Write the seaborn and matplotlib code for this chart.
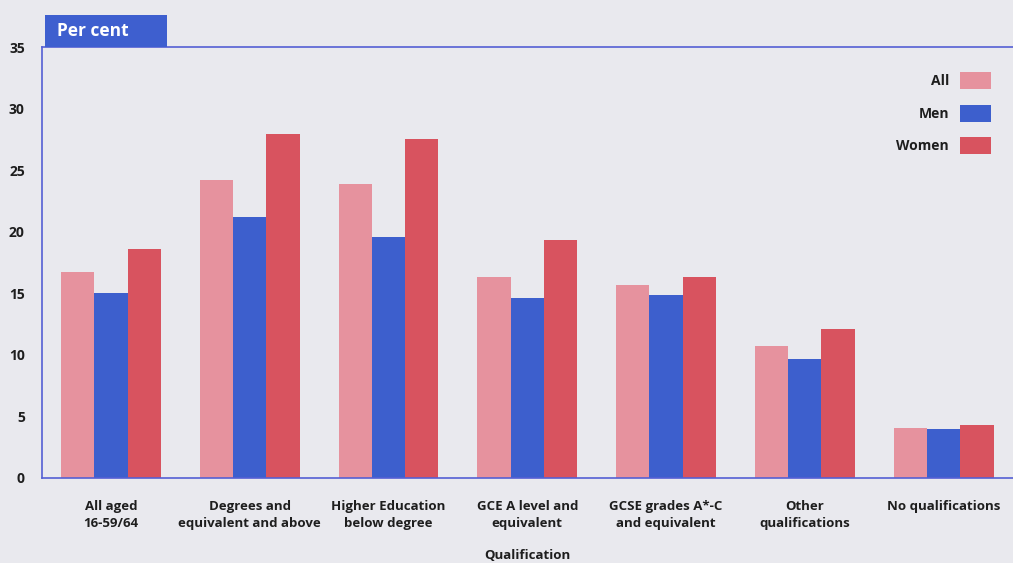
import pandas as pd
import matplotlib.pyplot as plt
from matplotlib.patches import Rectangle
import seaborn as sns

# Dados (por cento)
categorias = ['All aged\n16-59/64', 'Degrees and\nequivalent and above', 'Higher Education\nbelow degree',
              'GCE A level and\nequivalent', 'GCSE grades A*-C\nand equivalent', 'Other\nqualifications',
              'No qualifications']
grupos = ['All', 'Men', 'Women']
valores_all = [16.7, 24.2, 23.9, 16.3, 15.7, 10.7, 4.1]
valores_men = [15.0, 21.2, 19.6, 14.6, 14.9, 9.7, 4.0]
valores_women = [18.6, 27.9, 27.5, 19.3, 16.3, 12.1, 4.3]
yticks = [0, 5, 10, 15, 20, 25, 30, 35]

cores = {'All': '#e6929e', 'Men': '#3d5fcd', 'Women': '#d8535f'}
fundo = '#e9e9ee'
azul_linha = '#5560d4'
texto = '#1e1e1e'

df = pd.DataFrame({
    'Qualification': categorias * 3,
    'Grupo': ['All'] * 7 + ['Men'] * 7 + ['Women'] * 7,
    'Valor': valores_all + valores_men + valores_women,
})

sns.set_style('white')
plt.rcParams['font.family'] = ['Open Sans', 'DejaVu Sans']

fig = plt.figure(figsize=(10.13, 5.63), dpi=100, facecolor=fundo)
ax = fig.add_axes([0.041, 0.151, 0.959, 0.7655])
ax.set_facecolor(fundo)

sns.barplot(data=df, x='Qualification', y='Valor', hue='Grupo', hue_order=grupos,
            palette=cores, width=0.72, saturation=1, linewidth=0, ax=ax, legend=True)

ax.set_xlim(-0.5, 6.5)
ax.set_ylim(0, 35)
ax.set_yticks(yticks)
ax.set_yticklabels([str(v) for v in yticks], fontsize=10, fontweight='bold', color=texto)
ax.tick_params(axis='y', length=0, pad=12)
ax.tick_params(axis='x', which='major', length=0, pad=16, labelsize=9.5, labelcolor=texto)
for t in ax.get_xticklabels():
    t.set_fontweight('bold')
    t.set_linespacing(1.35)
ax.set_xticks([i + 0.5 for i in range(-1, 6)], minor=True)
ax.tick_params(axis='x', which='minor', length=5, color=azul_linha, direction='out')

ax.set_xlabel('Qualification', fontsize=9.5, fontweight='bold', color=texto, labelpad=14)
ax.set_ylabel('')

for lado in ['left', 'bottom', 'top']:
    ax.spines[lado].set_color(azul_linha)
    ax.spines[lado].set_linewidth(1.2)
ax.spines['right'].set_visible(False)

# Caixa "Per cent"
ax.add_patch(Rectangle((0.004, 1.0), 0.125, 0.075, transform=ax.transAxes,
                       facecolor='#3e5fcf', edgecolor='none', clip_on=False, zorder=5))
ax.text(0.016, 1.038, 'Per cent', transform=ax.transAxes, color='white', fontsize=12.5,
        fontweight='bold', va='center', ha='left', zorder=6)

leg = ax.legend(loc='upper right', bbox_to_anchor=(0.99, 0.97), frameon=False, markerfirst=False,
                handlelength=2.2, handleheight=1.5, labelspacing=1.1, fontsize=10,
                handletextpad=0.8)
for t in leg.get_texts():
    t.set_fontweight('bold')
    t.set_color(texto)

fig.savefig('out.png', dpi=100, facecolor=fundo)
